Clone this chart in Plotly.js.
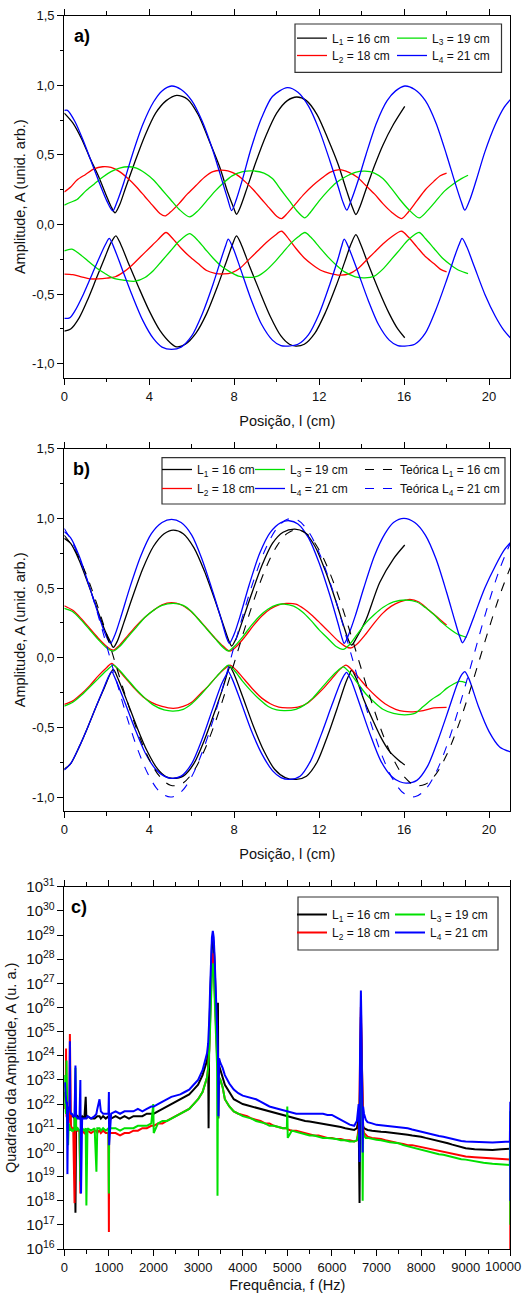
<!DOCTYPE html>
<html><head><meta charset="utf-8">
<script src="https://cdn.plot.ly/plotly-3.0.1.min.js"></script>
<style>html,body{margin:0;padding:0;background:#fff}#chart{width:523px;height:1294px}</style>
</head><body><div id="chart"></div>
<script>
// ---------- Panel a) ----------
const aL1UpX = [0,0.4,0.8,1.2,1.6,2.0,2.2,2.39,2.6,2.9,3.3,3.8,4.3,4.8,5.29,5.8,6.3,6.8,7.3,7.7,7.95,8.11,8.3,8.6,9.0,9.5,10.0,10.5,10.95,11.4,11.9,12.4,12.9,13.3,13.55,13.73,13.9,14.2,14.6,15.0,15.5,16.03];
const aL1UpY = [0.80,0.73,0.62,0.48,0.35,0.20,0.13,0.084,0.14,0.27,0.44,0.64,0.80,0.89,0.928,0.90,0.79,0.61,0.42,0.23,0.13,0.074,0.13,0.26,0.44,0.64,0.80,0.89,0.916,0.89,0.79,0.62,0.43,0.24,0.13,0.072,0.12,0.25,0.42,0.57,0.72,0.849];
const aL1LoX = [0,0.3,0.7,1.1,1.5,1.9,2.2,2.43,2.65,3.0,3.5,4.0,4.5,5.0,5.29,5.7,6.2,6.7,7.2,7.6,7.9,8.11,8.35,8.7,9.2,9.7,10.2,10.6,10.9,11.3,11.8,12.3,12.8,13.2,13.5,13.73,13.95,14.3,14.8,15.3,15.7,16.03];
const aL1LoY = [-0.765,-0.75,-0.67,-0.54,-0.39,-0.24,-0.13,-0.081,-0.14,-0.27,-0.45,-0.62,-0.76,-0.85,-0.878,-0.86,-0.78,-0.64,-0.45,-0.28,-0.15,-0.081,-0.15,-0.29,-0.48,-0.66,-0.80,-0.86,-0.873,-0.86,-0.78,-0.63,-0.44,-0.27,-0.14,-0.072,-0.14,-0.28,-0.47,-0.64,-0.75,-0.813];

const aL2UpX = [0,0.3,0.6,1.0,1.4,1.8,2.2,2.6,3.0,3.4,3.8,4.2,4.5,4.74,5.0,5.4,5.8,6.2,6.6,7.0,7.33,7.7,8.1,8.5,8.9,9.3,9.7,10.0,10.23,10.5,10.9,11.3,11.7,12.1,12.5,12.97,13.4,13.8,14.2,14.6,15.0,15.4,15.88,16.2,16.6,17.0,17.4,17.7,18.0];
const aL2UpY = [0.234,0.27,0.32,0.36,0.40,0.415,0.41,0.38,0.33,0.27,0.20,0.13,0.08,0.062,0.09,0.15,0.22,0.28,0.34,0.38,0.39,0.385,0.36,0.31,0.25,0.18,0.11,0.06,0.043,0.08,0.15,0.22,0.28,0.33,0.375,0.395,0.375,0.34,0.28,0.22,0.15,0.09,0.043,0.09,0.17,0.25,0.31,0.35,0.37];
const aL2LoX = [0,0.4,0.8,1.2,1.6,2.0,2.4,2.8,3.2,3.6,4.0,4.4,4.79,5.1,5.5,5.9,6.3,6.7,7.1,7.5,7.9,8.3,8.7,9.1,9.5,9.9,10.23,10.5,10.9,11.3,11.7,12.1,12.5,12.97,13.4,13.8,14.2,14.6,15.0,15.4,15.88,16.2,16.6,17.0,17.4,17.7,18.0];
const aL2LoY = [-0.356,-0.36,-0.375,-0.39,-0.39,-0.385,-0.375,-0.34,-0.29,-0.23,-0.17,-0.11,-0.057,-0.10,-0.17,-0.23,-0.28,-0.33,-0.35,-0.355,-0.345,-0.31,-0.25,-0.19,-0.13,-0.08,-0.048,-0.09,-0.17,-0.24,-0.29,-0.33,-0.35,-0.363,-0.355,-0.32,-0.26,-0.20,-0.14,-0.09,-0.048,-0.09,-0.16,-0.23,-0.28,-0.32,-0.34];

const aL3UpX = [0,0.3,0.6,1.0,1.4,1.8,2.2,2.6,3.0,3.4,3.8,4.2,4.6,5.0,5.4,5.9,6.3,6.7,7.1,7.5,7.9,8.4,8.9,9.4,9.8,10.2,10.6,11.0,11.33,11.6,12.0,12.4,12.8,13.2,13.7,14.15,14.6,15.0,15.4,15.8,16.2,16.71,17.1,17.5,17.9,18.3,18.7,19.01];
const aL3UpY = [0.139,0.16,0.18,0.24,0.29,0.34,0.38,0.405,0.415,0.405,0.37,0.32,0.25,0.18,0.11,0.055,0.10,0.17,0.24,0.30,0.35,0.38,0.385,0.37,0.33,0.25,0.17,0.09,0.048,0.09,0.17,0.24,0.30,0.34,0.375,0.383,0.37,0.33,0.26,0.18,0.11,0.048,0.10,0.17,0.24,0.29,0.33,0.354];
const aL3LoX = [0,0.35,0.7,1.1,1.5,1.9,2.3,2.8,3.33,3.8,4.2,4.6,5.0,5.4,5.9,6.2,6.6,7.0,7.4,7.8,8.2,8.66,9.1,9.5,9.9,10.3,10.7,11.0,11.33,11.6,12.0,12.4,12.8,13.2,13.7,14.15,14.6,15.0,15.4,15.8,16.2,16.71,17.0,17.4,17.8,18.2,18.6,19.01];
const aL3LoY = [-0.189,-0.177,-0.21,-0.26,-0.31,-0.35,-0.385,-0.40,-0.407,-0.38,-0.33,-0.26,-0.19,-0.12,-0.065,-0.10,-0.17,-0.24,-0.30,-0.34,-0.37,-0.38,-0.37,-0.33,-0.27,-0.20,-0.13,-0.09,-0.057,-0.09,-0.16,-0.23,-0.29,-0.34,-0.375,-0.383,-0.37,-0.32,-0.25,-0.18,-0.11,-0.057,-0.10,-0.17,-0.24,-0.29,-0.33,-0.352];

const aL4UpX = [0,0.15,0.5,0.9,1.3,1.7,2.0,2.28,2.5,2.8,3.2,3.7,4.2,4.6,5.05,5.5,6.0,6.5,7.0,7.4,7.7,7.88,8.1,8.4,8.8,9.3,9.8,10.5,11.0,11.5,12.0,12.5,12.9,13.1,13.3,13.5,13.8,14.2,14.7,15.2,15.6,16.03,16.5,17.0,17.5,18.0,18.4,18.7,18.86,19.1,19.4,19.8,20.3,20.7,21.0];
const aL4UpY = [0.82,0.82,0.74,0.60,0.44,0.28,0.17,0.098,0.17,0.30,0.50,0.72,0.88,0.96,0.995,0.97,0.89,0.74,0.53,0.33,0.18,0.10,0.18,0.33,0.55,0.77,0.92,0.983,0.95,0.85,0.68,0.46,0.27,0.17,0.103,0.17,0.30,0.50,0.73,0.89,0.96,0.995,0.97,0.89,0.73,0.50,0.30,0.16,0.103,0.18,0.32,0.52,0.72,0.84,0.897];
const aL4LoX = [0,0.25,0.5,0.9,1.3,1.7,1.95,2.12,2.35,2.7,3.2,3.7,4.2,4.6,5.05,5.5,6.0,6.5,7.0,7.4,7.6,7.72,7.95,8.3,8.8,9.3,9.8,10.2,10.55,11.0,11.5,12.0,12.5,12.9,13.05,13.18,13.4,13.8,14.3,14.8,15.3,15.7,16.03,16.5,17.0,17.5,18.0,18.4,18.6,18.73,18.95,19.3,19.8,20.3,20.7,21.0];
const aL4LoY = [-0.674,-0.67,-0.62,-0.50,-0.36,-0.22,-0.14,-0.10,-0.17,-0.31,-0.51,-0.69,-0.82,-0.88,-0.897,-0.88,-0.80,-0.64,-0.43,-0.24,-0.15,-0.105,-0.17,-0.32,-0.54,-0.72,-0.83,-0.87,-0.873,-0.86,-0.79,-0.64,-0.43,-0.24,-0.16,-0.105,-0.17,-0.33,-0.54,-0.72,-0.83,-0.87,-0.873,-0.86,-0.78,-0.61,-0.40,-0.22,-0.14,-0.10,-0.16,-0.30,-0.50,-0.66,-0.76,-0.813];

// ---------- Panel b) ----------
const bL1UpX = [0,0.3,0.7,1.1,1.5,1.9,2.15,2.31,2.5,2.8,3.2,3.7,4.2,4.7,5.13,5.6,6.1,6.6,7.1,7.5,7.75,7.88,8.1,8.4,8.8,9.3,9.8,10.3,10.86,11.3,11.8,12.3,12.8,13.15,13.4,13.53,13.75,14.2,14.85,15.5,16.03];
const bL1UpY = [0.857,0.82,0.70,0.54,0.37,0.20,0.12,0.074,0.12,0.25,0.43,0.64,0.80,0.89,0.916,0.89,0.79,0.62,0.41,0.23,0.12,0.084,0.14,0.27,0.45,0.66,0.82,0.90,0.923,0.90,0.80,0.62,0.40,0.23,0.12,0.091,0.14,0.27,0.54,0.71,0.809];
const bL1LoX = [0,0.3,0.7,1.1,1.5,1.9,2.15,2.31,2.5,2.9,3.4,3.9,4.4,4.8,5.13,5.6,6.1,6.6,7.1,7.5,7.7,7.8,8.0,8.4,8.9,9.4,9.9,10.4,10.93,11.4,11.9,12.4,12.9,13.25,13.45,13.53,13.75,14.1,14.5,14.9,15.3,15.7,16.03];
const bL1LoY = [-0.80,-0.76,-0.64,-0.50,-0.35,-0.21,-0.12,-0.084,-0.14,-0.29,-0.49,-0.67,-0.80,-0.855,-0.866,-0.85,-0.76,-0.59,-0.38,-0.20,-0.10,-0.065,-0.12,-0.28,-0.49,-0.67,-0.80,-0.86,-0.873,-0.85,-0.75,-0.56,-0.34,-0.18,-0.11,-0.088,-0.15,-0.30,-0.44,-0.57,-0.67,-0.73,-0.77];

const bL2UpX = [0,0.4,0.8,1.2,1.6,2.0,2.31,2.6,3.0,3.4,3.8,4.2,4.6,5.05,5.5,5.9,6.3,6.7,7.1,7.5,7.8,8.1,8.5,8.9,9.3,9.7,10.1,10.45,10.9,11.3,11.7,12.1,12.5,12.9,13.25,13.5,13.8,14.2,14.6,15.0,15.4,15.8,16.27,16.7,17.1,17.5,17.8,18.0];
const bL2UpY = [0.373,0.34,0.28,0.21,0.14,0.08,0.055,0.09,0.16,0.23,0.29,0.34,0.38,0.395,0.38,0.34,0.28,0.21,0.14,0.08,0.048,0.08,0.15,0.23,0.30,0.35,0.38,0.39,0.385,0.35,0.30,0.24,0.18,0.12,0.08,0.07,0.10,0.17,0.25,0.32,0.37,0.40,0.419,0.40,0.35,0.30,0.26,0.234];
const bL2LoX = [0,0.4,0.8,1.2,1.6,2.0,2.23,2.5,2.9,3.3,3.7,4.1,4.6,5.13,5.6,6.0,6.4,6.8,7.2,7.55,7.8,8.1,8.5,8.9,9.3,9.7,10.1,10.5,11.0,11.4,11.8,12.2,12.6,13.0,13.26,13.5,13.9,14.3,14.7,15.1,15.6,16.0,16.42,16.9,17.4,18.0];
const bL2LoY = [-0.335,-0.31,-0.26,-0.20,-0.13,-0.07,-0.04,-0.08,-0.15,-0.22,-0.28,-0.32,-0.35,-0.364,-0.35,-0.32,-0.26,-0.20,-0.13,-0.08,-0.053,-0.09,-0.16,-0.23,-0.29,-0.33,-0.355,-0.36,-0.355,-0.33,-0.28,-0.22,-0.15,-0.08,-0.053,-0.08,-0.15,-0.22,-0.28,-0.33,-0.37,-0.385,-0.388,-0.38,-0.36,-0.356];

const bL3UpX = [0,0.4,0.8,1.2,1.6,2.0,2.31,2.6,3.0,3.4,3.8,4.2,4.6,5.13,5.6,6.0,6.4,6.8,7.2,7.5,7.72,8.0,8.4,8.8,9.2,9.6,10.0,10.35,10.8,11.2,11.6,12.0,12.4,12.8,13.13,13.4,13.8,14.2,14.6,15.0,15.5,16.11,16.6,17.0,17.4,17.8,18.2,18.5,18.94];
const bL3UpY = [0.354,0.33,0.27,0.20,0.13,0.07,0.048,0.08,0.15,0.22,0.29,0.34,0.375,0.39,0.375,0.33,0.26,0.19,0.12,0.07,0.048,0.08,0.15,0.23,0.30,0.35,0.38,0.385,0.37,0.33,0.27,0.20,0.14,0.08,0.06,0.09,0.17,0.25,0.31,0.36,0.40,0.414,0.40,0.36,0.31,0.25,0.20,0.17,0.146];
const bL3LoX = [0,0.4,0.8,1.2,1.6,2.0,2.31,2.6,3.0,3.4,3.8,4.2,4.7,5.13,5.6,6.0,6.4,6.8,7.2,7.5,7.72,8.0,8.4,8.8,9.2,9.6,10.0,10.4,10.9,11.3,11.7,12.1,12.5,12.9,13.13,13.4,13.8,14.2,14.6,15.0,15.5,16.03,16.5,16.9,17.3,17.7,18.0,18.31,18.6,18.94];
const bL3LoY = [-0.347,-0.32,-0.27,-0.21,-0.15,-0.09,-0.053,-0.09,-0.16,-0.23,-0.29,-0.34,-0.375,-0.383,-0.37,-0.33,-0.27,-0.20,-0.13,-0.08,-0.053,-0.09,-0.17,-0.24,-0.30,-0.35,-0.375,-0.38,-0.37,-0.34,-0.29,-0.22,-0.15,-0.09,-0.065,-0.10,-0.18,-0.26,-0.32,-0.37,-0.40,-0.41,-0.40,-0.35,-0.30,-0.26,-0.22,-0.19,-0.17,-0.18];

const bL4UpX = [0,0.3,0.7,1.1,1.5,1.85,2.05,2.18,2.4,2.7,3.1,3.6,4.1,4.6,5.05,5.5,6.0,6.5,7.0,7.4,7.65,7.77,8.0,8.3,8.7,9.2,9.7,10.2,10.59,11.0,11.5,12.0,12.5,12.9,13.08,13.18,13.4,13.7,14.1,14.6,15.1,15.5,15.99,16.5,17.0,17.5,18.0,18.4,18.62,18.75,18.95,19.3,19.8,20.3,20.7,21.0];
const bL4UpY = [0.904,0.86,0.73,0.55,0.36,0.20,0.13,0.103,0.17,0.31,0.51,0.73,0.89,0.97,0.993,0.97,0.88,0.70,0.47,0.27,0.14,0.103,0.17,0.31,0.52,0.75,0.90,0.97,0.983,0.96,0.86,0.68,0.45,0.24,0.14,0.103,0.17,0.30,0.50,0.73,0.89,0.97,1.0,0.97,0.88,0.71,0.47,0.26,0.15,0.107,0.16,0.30,0.50,0.66,0.77,0.825];
const bL4LoX = [0,0.3,0.7,1.1,1.5,1.85,2.1,2.23,2.4,2.8,3.3,3.8,4.3,4.7,5.05,5.5,6.0,6.5,7.0,7.4,7.6,7.72,7.9,8.3,8.8,9.3,9.8,10.2,10.62,11.1,11.6,12.1,12.6,13.0,13.2,13.29,13.5,13.9,14.4,14.9,15.4,15.8,16.11,16.6,17.1,17.6,18.1,18.5,18.72,18.86,19.05,19.5,20.0,20.5,21.0];
const bL4LoY = [-0.806,-0.76,-0.64,-0.50,-0.35,-0.22,-0.13,-0.10,-0.15,-0.30,-0.50,-0.68,-0.80,-0.85,-0.866,-0.85,-0.76,-0.58,-0.36,-0.19,-0.13,-0.10,-0.15,-0.31,-0.52,-0.69,-0.81,-0.86,-0.873,-0.85,-0.74,-0.55,-0.34,-0.18,-0.12,-0.105,-0.16,-0.33,-0.55,-0.74,-0.85,-0.89,-0.90,-0.88,-0.78,-0.59,-0.37,-0.19,-0.12,-0.10,-0.15,-0.35,-0.53,-0.64,-0.675];

// theoretical curves (panel b)
const thX = [0,0.5,1,1.5,2,2.5,3,3.5,4,4.5,5,5.5,6,6.5,7,7.5,8,8.5,9,9.5,10,10.5,11,11.5,12,12.5,13,13.5,14,14.5,15,15.5,16,16.5,17,17.5,18,18.5,19,19.5,20,20.5,21];
const thL1Y = [0.879,0.773,0.610,0.401,0.163,-0.088,-0.331,-0.550,-0.730,-0.854,-0.915,-0.908,-0.834,-0.697,-0.509,-0.284,-0.038,0.211,0.446,0.647,0.799,0.892,0.920,0.879,0.773,0.609,0.401,0.163,-0.088,-0.332,-0.551,-0.730,-0.854,-0.915,-0.908,-0.835,-0.698,-0.510,-0.285,-0.038,0.212,0.447,0.647];
const thL4Y = [0.927,0.789,0.593,0.352,0.083,-0.191,-0.451,-0.676,-0.852,-0.963,-1.0,-0.963,-0.852,-0.676,-0.451,-0.192,0.083,0.351,0.592,0.789,0.926,0.994,0.986,0.904,0.754,0.547,0.298,0.028,-0.246,-0.500,-0.717,-0.880,-0.975,-0.998,-0.946,-0.823,-0.636,-0.401,-0.137,0.138,0.402,0.636,0.822];

// ---------- Panel c) (log10 of squared amplitude) ----------
const freqC = [0,15,30,40,50,60,70,85,100,115,125,135,150,170,200,230,250,265,300,340,360,375,400,450,480,495,520,600,680,720,740,770,790,820,870,930,990,1000,1005,1050,1150,1250,1350,1450,1550,1650,1750,1850,1950,1995,2005,2100,2200,2300,2400,2500,2600,2700,2800,2900,3000,3100,3150,3200,3225,3235,3250,3270,3290,3310,3330,3350,3370,3390,3410,3425,3435,3445,3455,3470,3500,3550,3600,3700,3800,3900,4000,4100,4200,4300,4400,4500,4600,4700,4800,4900,4990,5000,5010,5100,5200,5300,5400,5500,5600,5700,5800,5900,6000,6100,6200,6300,6400,6500,6560,6600,6620,6630,6640,6650,6660,6670,6680,6690,6700,6720,6760,6800,6900,7000,7100,7200,7300,7400,7500,7600,7700,7800,7900,8000,8100,8200,8300,8400,8500,8600,8700,8800,8900,9000,9200,9400,9600,9800,9990,10000,10000];
const cL1Exp = [22.5,22.3,22.1,22.0,21.9,21.8,21.8,21.7,21.7,21.6, 21.6,21.5,21.5,21.5,21.5,21.4,17.5,21.4,21.5,21.4, 21.4,21.4,21.5,21.4,22.3,21.4,21.5,21.4,21.4,21.5, 21.5,21.5,21.5,21.4,21.5,21.4,21.5,21.4,21.5,21.4, 21.5,21.4,21.5,21.4,21.5,21.5,21.5,21.6,21.6,21.6, 21.6,21.7,21.8,21.9,22.0,22.1,22.2,22.3,22.4,22.6, 22.8,23.2,23.5,23.8,24.2,21.0,25.0,26.5,27.8,28.6, 28.9,28.6,27.8,26.5,25.0,24.3,24.0,26.2,21.4,23.6, 23.4,23.1,22.8,22.5,22.2,22.1,22.0,21.95,21.9,21.85, 21.8,21.75,21.7,21.65,21.6,21.55,21.5,21.5,21.5,21.45, 21.4,21.35,21.3,21.28,21.25,21.2,21.2,21.15,21.14,21.1, 21.05,21.0,20.97,20.93,21.0,21.4,17.9,23.5,24.8,25.6, 24.8,23.3,22.0,21.3,21.1,21.0,20.95,20.93,20.9,20.86, 20.85,20.84,20.82,20.8,20.8,20.76,20.73,20.7,20.68,20.65, 20.6,20.56,20.52,20.48,20.45,20.38,20.32,20.26,20.2,20.17, 20.13,20.1,20.1,20.13,20.15,20.15,20.15];
const cL2Exp = [22.0,21.8,22.0,24.3,21.5,21.4,21.3,21.3,21.2,22.0, 24.9,21.2,21.1,21.0,21.0,17.9,21.1,21.0,20.9,20.9, 18.3,20.9,20.9,20.8,20.9,20.8,20.9,20.8,20.9,20.9, 20.8,20.9,20.9,20.8,20.9,20.8,20.8,16.7,20.8,20.8, 20.8,20.7,20.8,20.8,20.9,20.9,21.0,21.0,21.1,21.1, 21.1,21.2,21.2,21.3,21.4,21.5,21.6,21.7,21.8,22.0, 22.2,22.5,22.8,23.1,23.5,23.8,24.3,25.5,26.8,27.8, 28.24,27.9,26.8,25.5,24.3,23.8,23.5,23.3,23.2,23.1, 23.0,22.7,22.2,21.9,21.7,21.6,21.55,21.5,21.4,21.35, 21.3,21.2,21.2,21.1,21.05,21.0,21.0,20.95,20.95,20.9, 20.9,20.85,20.8,20.75,20.7,20.7,20.65,20.6,20.6,20.55, 20.55,20.5,20.5,20.45,20.5,21.0,22.5,23.8,25.0,26.03, 25.0,23.6,22.3,21.4,21.0,20.8,20.7,20.65,20.6,20.58, 20.55,20.5,20.45,20.4,20.38,20.35,20.3,20.3,20.26,20.24, 20.2,20.15,20.1,20.05,20.03,19.98,19.94,19.9,19.86,19.83, 19.8,19.77,19.75,19.72,19.7,19.7,15.9];
const cL3Exp = [21.9,23.2,21.7,21.6,23.8,21.3,21.2,20.3,21.2,21.1, 21.0,20.9,21.0,20.9,20.9,21.0,23.5,20.9,21.0,20.9, 18.8,20.9,21.0,20.9,21.0,17.8,21.0,20.9,21.0,19.2, 21.0,21.0,21.0,20.9,21.0,20.9,21.0,18.3,21.0,21.0, 21.0,20.9,21.0,21.0,21.0,21.1,21.1,21.1,21.2,22.0, 20.8,21.2,21.3,21.3,21.4,21.5,21.6,21.7,21.8,22.0, 22.2,22.5,22.8,23.1,23.5,23.7,24.2,25.2,26.5,27.4, 27.83,27.5,26.5,25.2,24.2,23.6,18.2,23.3,23.2,23.1, 23.0,22.7,22.2,21.9,21.7,21.6,21.5,21.45,21.4,21.3, 21.25,21.2,21.1,21.1,21.05,21.0,21.0,21.9,20.6,20.9, 20.85,20.8,20.75,20.7,20.7,20.65,20.6,20.6,20.58,20.55, 20.5,20.5,20.45,20.45,20.5,20.8,21.5,22.8,23.8,24.72, 23.8,22.6,21.6,18.0,20.9,20.7,20.6,20.6,20.55,20.52, 20.5,20.45,20.42,20.4,20.38,20.3,20.25,20.2,20.15,20.1, 20.05,20.0,19.95,19.92,19.9,19.85,19.8,19.76,19.72,19.7, 19.63,19.57,19.53,19.5,19.48,21.7,17.0];
const cL4Exp = [22.7,22.9,22.4,22.2,22.0,22.1,19.1,21.9,21.8,21.8, 24.6,21.7,21.6,21.6,21.5,21.5,23.6,21.5,21.4,21.4, 23.0,18.3,21.4,21.4,21.4,21.4,21.5,21.4,21.5,21.6, 21.8,22.1,22.2,21.7,21.6,21.6,21.6,22.5,20.3,21.6, 21.7,21.6,21.7,21.7,21.7,21.8,21.7,21.8,21.9,21.9, 21.9,22.0,22.1,22.2,22.3,22.35,22.4,22.5,22.6,22.8, 23.0,23.4,23.7,24.1,24.5,24.8,25.5,26.8,28.1,28.9, 29.17,28.9,28.1,26.8,25.5,24.8,24.4,24.1,21.5,23.9, 23.7,23.5,23.2,22.85,22.6,22.45,22.35,22.3,22.25,22.2, 22.1,22.0,21.9,21.85,21.8,21.75,21.7,21.7,21.7,21.65, 21.6,21.6,21.6,21.62,21.6,21.6,21.6,21.55,21.55,21.45, 21.35,21.27,21.15,21.1,21.3,22.0,19.6,24.0,25.6,26.7, 25.6,24.0,22.8,20.0,21.9,21.6,21.35,21.25,21.2,21.14, 21.12,21.1,21.1,21.08,21.07,21.05,21.0,20.95,20.9,20.86, 20.8,20.76,20.72,20.68,20.65,20.6,20.55,20.5,20.47,20.45, 20.43,20.41,20.41,20.43,20.45,22.1,18.0];

// ---------- labels / ticks ----------
const seriesNames = ['L<sub>1</sub> = 16 cm','L<sub>2</sub> = 18 cm','L<sub>3</sub> = 19 cm','L<sub>4</sub> = 21 cm'];
const theoryNames = ['Teórica L<sub>1</sub> = 16 cm','Teórica L<sub>4</sub> = 21 cm'];
const ampTickVals = [-1,-0.5,0,0.5,1,1.5];
const ampTickText = ['-1,0','-0,5','0,0','0,5','1,0','1,5'];
const posTickVals = [0,4,8,12,16,20];
const freqTickVals = [0,1000,2000,3000,4000,5000,6000,7000,8000,9000,10000];
const freqTickText = ['0','1000','2000','3000','4000','5000','6000','7000','8000','9000',''];
const freqLastLabel = '10000';
const colors = ['#000000','#ff0000','#00e000','#0000ff'];

// ---------- build ----------
const W = 523, H = 1294;
const px = v => v / W;
const py = v => 1 - v / H;
function joinUL(ux, uy, lx, ly) { return { x: ux.concat([null], lx), y: uy.concat([null], ly) }; }

const aSets = [[aL1UpX,aL1UpY,aL1LoX,aL1LoY],[aL2UpX,aL2UpY,aL2LoX,aL2LoY],[aL3UpX,aL3UpY,aL3LoX,aL3LoY],[aL4UpX,aL4UpY,aL4LoX,aL4LoY]];
const bSets = [[bL1UpX,bL1UpY,bL1LoX,bL1LoY],[bL2UpX,bL2UpY,bL2LoX,bL2LoY],[bL3UpX,bL3UpY,bL3LoX,bL3LoY],[bL4UpX,bL4UpY,bL4LoX,bL4LoY]];
const cSets = [cL1Exp, cL2Exp, cL3Exp, cL4Exp];
// row legends: row 1 holds L1 & L3, row 2 holds L2 & L4
const legA = ['legend','legend4','legend','legend4'];
const legB = ['legend2','legend5','legend2','legend5'];
const legC = ['legend3','legend6','legend3','legend6'];
const widA = [55,55,55,55];
const widB = [48,48,65,65];
const widC = [53,53,53,53];

const traces = [];
aSets.forEach((s, i) => {
  const d = joinUL(s[0], s[1], s[2], s[3]);
  traces.push({ type:'scatter', mode:'lines', x:d.x, y:d.y, xaxis:'x', yaxis:'y', name:seriesNames[i],
    line:{ color:colors[i], width:1.3, shape:'spline', smoothing:0.8 }, legend:legA[i], legendwidth:widA[i], connectgaps:false });
});
bSets.forEach((s, i) => {
  const d = joinUL(s[0], s[1], s[2], s[3]);
  traces.push({ type:'scatter', mode:'lines', x:d.x, y:d.y, xaxis:'x2', yaxis:'y2', name:seriesNames[i],
    line:{ color:colors[i], width:1.3, shape:'spline', smoothing:0.8 }, legend:legB[i], legendwidth:widB[i], connectgaps:false });
});
traces.push({ type:'scatter', mode:'lines', x:thX, y:thL1Y, xaxis:'x2', yaxis:'y2', name:theoryNames[0],
  line:{ color:'#000000', width:1.1, dash:'dash', shape:'spline', smoothing:1 }, legend:'legend2', legendwidth:110 });
traces.push({ type:'scatter', mode:'lines', x:thX, y:thL4Y, xaxis:'x2', yaxis:'y2', name:theoryNames[1],
  line:{ color:'#0000ff', width:1.1, dash:'dash', shape:'spline', smoothing:1 }, legend:'legend5', legendwidth:110 });
cSets.forEach((e, i) => {
  traces.push({ type:'scatter', mode:'lines', x:freqC, y:e.map(v => Math.pow(10, v)), xaxis:'x3', yaxis:'y3', name:seriesNames[i],
    line:{ color:colors[i], width:2.0 }, legend:legC[i], legendwidth:widC[i] });
});

const FONT = 'Liberation Sans, Arial, sans-serif';
const tickFont = { family:FONT, size:13, color:'#111' };
const titleFont = { family:FONT, size:14.5, color:'#111' };
const xDom = [px(64.3), px(510.3)];

function posX(anchor, titleText) {
  return { domain:xDom, anchor:anchor, range:[0,21], tickmode:'array', tickvals:posTickVals, ticktext:posTickVals.map(String),
    ticks:'outside', ticklen:6, tickwidth:1.2, tickcolor:'#000', showline:true, linecolor:'#000', linewidth:1.4,
    mirror:'ticks', showgrid:false, zeroline:false, tickfont:tickFont,
    minor:{ tickmode:'linear', tick0:0, dtick:2, ticks:'outside', ticklen:3.5, tickwidth:1.1, tickcolor:'#000', showgrid:false },
    title:{ text:titleText, font:titleFont, standoff:13 } };
}
function ampY(anchor, dom) {
  return { domain:dom, anchor:anchor, range:[-1.1,1.5], tickmode:'array', tickvals:ampTickVals, ticktext:ampTickText,
    ticks:'outside', ticklen:6, tickwidth:1.2, tickcolor:'#000', showline:true, linecolor:'#000', linewidth:1.4,
    mirror:true, showgrid:false, zeroline:false, tickfont:tickFont,
    minor:{ tickmode:'linear', tick0:0, dtick:0.25, ticks:'outside', ticklen:3.5, tickwidth:1.1, tickcolor:'#000', showgrid:false },
    title:{ text:'Amplitude, A (unid. arb.)', font:titleFont, standoff:3 } };
}
function leg(xLeft, yTop) {
  return { x:px(xLeft), y:py(yTop), xanchor:'left', yanchor:'top', orientation:'h', bgcolor:'rgba(0,0,0,0)',
    borderwidth:0, font:{ family:FONT, size:12, color:'#111' }, itemwidth:30, traceorder:'normal' };
}

const layout = {
  width:W, height:H, margin:{ l:0, r:0, t:0, b:0 }, paper_bgcolor:'#fff', plot_bgcolor:'#fff',
  showlegend:true, font:{ family:FONT, color:'#111' },
  xaxis: posX('y', 'Posição, l (cm)'),
  yaxis: ampY('x', [py(377.7), py(15.7)]),
  xaxis2: posX('y2', 'Posição, l (cm)'),
  yaxis2: ampY('x2', [py(811), py(448.7)]),
  xaxis3: { domain:xDom, anchor:'y3', range:[0,10000], tickmode:'array', tickvals:freqTickVals, ticktext:freqTickText,
    ticks:'outside', ticklen:6, tickwidth:1.2, tickcolor:'#000', showline:true, linecolor:'#000', linewidth:1.4,
    mirror:'ticks', showgrid:false, zeroline:false, tickfont:tickFont,
    minor:{ tickmode:'linear', tick0:0, dtick:500, ticks:'outside', ticklen:3.5, tickwidth:1.1, tickcolor:'#000', showgrid:false },
    title:{ text:'Frequência, f (Hz)', font:titleFont, standoff:6 } },
  yaxis3: { domain:[py(1249), py(886.7)], anchor:'x3', type:'log', range:[16,31], dtick:1, exponentformat:'power', showexponent:'all',
    ticks:'outside', ticklen:6, tickwidth:1.2, tickcolor:'#000', showline:true, linecolor:'#000', linewidth:1.4,
    mirror:true, showgrid:false, zeroline:false, tickfont:{ family:FONT, size:12, color:'#111' },
    title:{ text:'Quadrado da Amplitude, A (u. a.)', font:titleFont, standoff:6 } },
  legend: leg(292, 23.7),
  legend4: leg(292, 41),
  legend2: leg(157, 455),
  legend5: leg(157, 474),
  legend3: leg(292, 900),
  legend6: leg(292, 918),
  shapes: [
    { type:'rect', xref:'paper', yref:'paper', x0:px(295), x1:px(501.5), y0:py(72.3), y1:py(24), line:{ color:'#333', width:1.2 } },
    { type:'rect', xref:'paper', yref:'paper', x0:px(162), x1:px(505), y0:py(504), y1:py(457.7), line:{ color:'#333', width:1.2 } },
    { type:'rect', xref:'paper', yref:'paper', x0:px(298), x1:px(498), y0:py(950), y1:py(897), line:{ color:'#333', width:1.2 } }
  ],
  annotations: [
    { text:'<b>a)</b>', xref:'paper', yref:'paper', x:px(72), y:py(24), xanchor:'left', yanchor:'top', showarrow:false, font:{ family:FONT, size:18, color:'#000' } },
    { text:'<b>b)</b>', xref:'paper', yref:'paper', x:px(71), y:py(457), xanchor:'left', yanchor:'top', showarrow:false, font:{ family:FONT, size:18, color:'#000' } },
    { text:'<b>c)</b>', xref:'paper', yref:'paper', x:px(69), y:py(895), xanchor:'left', yanchor:'top', showarrow:false, font:{ family:FONT, size:18, color:'#000' } },
    { text:freqLastLabel, xref:'paper', yref:'paper', x:px(522), y:py(1266.5), xanchor:'right', yanchor:'middle', showarrow:false,
      font:{ family:FONT, size:13, color:'#111' }, borderpad:0 }
  ]
};

Plotly.newPlot('chart', traces, layout, { displayModeBar:false });
</script>
</body></html>
